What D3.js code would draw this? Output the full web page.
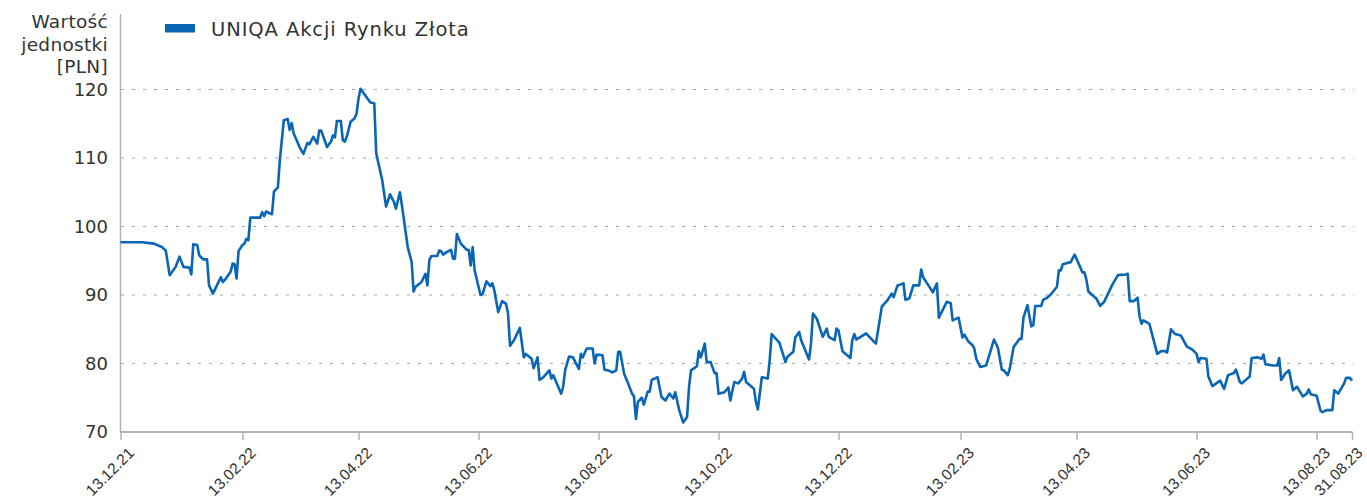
<!DOCTYPE html>
<html>
<head>
<meta charset="utf-8">
<script src="https://cdn.jsdelivr.net/npm/d3@7"></script>
<style>
  html, body { margin: 0; padding: 0; background: #fff; }
  svg { display: block; font-family: "DejaVu Sans", sans-serif; }
</style>
</head>
<body>
<svg id="chart" width="1367" height="502"></svg>
<script>
const seriesName = "UNIQA Akcji Rynku Złota";
const yTitle = ["Wartość", "jednostki", "[PLN]"];
const yTicks = [70, 80, 90, 100, 110, 120];
const xTickDates = ["2021-12-13","2022-02-13","2022-04-13","2022-06-13","2022-08-13","2022-10-13","2022-12-13","2023-02-13","2023-04-13","2023-06-13","2023-08-13","2023-08-31"];

const dates = [
"2021-12-13","2021-12-24","2021-12-30","2022-01-03","2022-01-05","2022-01-07","2022-01-10","2022-01-12","2022-01-14","2022-01-17",
"2022-01-18","2022-01-19","2022-01-21","2022-01-22","2022-01-24","2022-01-26","2022-01-27","2022-01-29","2022-01-31","2022-02-02",
"2022-02-03","2022-02-04","2022-02-07","2022-02-08","2022-02-09","2022-02-10","2022-02-11","2022-02-13","2022-02-14","2022-02-15",
"2022-02-16","2022-02-17","2022-02-19","2022-02-22","2022-02-23","2022-02-24","2022-02-25","2022-02-27","2022-02-28","2022-03-01",
"2022-03-03","2022-03-04","2022-03-06","2022-03-08","2022-03-09","2022-03-10","2022-03-11","2022-03-14","2022-03-16","2022-03-18",
"2022-03-19","2022-03-21","2022-03-23","2022-03-24","2022-03-25","2022-03-28","2022-03-30","2022-03-31","2022-04-01","2022-04-02",
"2022-04-04","2022-04-05","2022-04-06","2022-04-07","2022-04-09","2022-04-11","2022-04-12","2022-04-13","2022-04-14","2022-04-16",
"2022-04-19","2022-04-21","2022-04-22","2022-04-25","2022-04-27","2022-04-29","2022-05-01","2022-05-02","2022-05-04","2022-05-05",
"2022-05-08","2022-05-10","2022-05-11","2022-05-12","2022-05-15","2022-05-17","2022-05-18","2022-05-19","2022-05-20","2022-05-23",
"2022-05-24","2022-05-25","2022-05-26","2022-05-28","2022-05-30","2022-05-31","2022-06-01","2022-06-02","2022-06-04","2022-06-07",
"2022-06-08","2022-06-09","2022-06-10","2022-06-11","2022-06-14","2022-06-15","2022-06-17","2022-06-19","2022-06-20","2022-06-21",
"2022-06-23","2022-06-25","2022-06-27","2022-06-28","2022-06-29","2022-07-01","2022-07-04","2022-07-06","2022-07-07","2022-07-10",
"2022-07-11","2022-07-13","2022-07-14","2022-07-16","2022-07-19","2022-07-20","2022-07-21","2022-07-25","2022-07-26","2022-07-27",
"2022-07-29","2022-07-31","2022-08-03","2022-08-04","2022-08-05","2022-08-07","2022-08-10","2022-08-11","2022-08-12","2022-08-15",
"2022-08-16","2022-08-18","2022-08-20","2022-08-22","2022-08-23","2022-08-24","2022-08-26","2022-08-28","2022-08-30","2022-08-31",
"2022-09-01","2022-09-02","2022-09-04","2022-09-05","2022-09-07","2022-09-08","2022-09-09","2022-09-12","2022-09-14","2022-09-16",
"2022-09-18","2022-09-20","2022-09-21","2022-09-23","2022-09-25","2022-09-27","2022-09-28","2022-09-29","2022-10-02","2022-10-03",
"2022-10-04","2022-10-06","2022-10-07","2022-10-09","2022-10-11","2022-10-12","2022-10-13","2022-10-16","2022-10-18","2022-10-19",
"2022-10-21","2022-10-23","2022-10-25","2022-10-26","2022-10-27","2022-10-31","2022-11-01","2022-11-02","2022-11-04","2022-11-07",
"2022-11-08","2022-11-09","2022-11-13","2022-11-16","2022-11-17","2022-11-20","2022-11-21","2022-11-23","2022-11-24","2022-11-28",
"2022-11-29","2022-11-30","2022-12-02","2022-12-05","2022-12-07","2022-12-08","2022-12-11","2022-12-12","2022-12-13","2022-12-15",
"2022-12-19","2022-12-20","2022-12-21","2022-12-22","2022-12-27","2022-12-30","2023-01-01","2023-01-04","2023-01-07","2023-01-09",
"2023-01-10","2023-01-12","2023-01-15","2023-01-16","2023-01-18","2023-01-20","2023-01-23","2023-01-24","2023-01-25","2023-01-27",
"2023-01-30","2023-02-01","2023-02-02","2023-02-06","2023-02-08","2023-02-09","2023-02-12","2023-02-14","2023-02-15","2023-02-17",
"2023-02-19","2023-02-20","2023-02-21","2023-02-23","2023-02-26","2023-02-27","2023-03-02","2023-03-04","2023-03-06","2023-03-07",
"2023-03-09","2023-03-10","2023-03-12","2023-03-15","2023-03-16","2023-03-17","2023-03-19","2023-03-21","2023-03-22","2023-03-23",
"2023-03-26","2023-03-27","2023-03-29","2023-03-31","2023-04-03","2023-04-04","2023-04-05","2023-04-06","2023-04-10","2023-04-12",
"2023-04-16","2023-04-17","2023-04-18","2023-04-19","2023-04-21","2023-04-23","2023-04-25","2023-04-27","2023-05-01","2023-05-04",
"2023-05-08","2023-05-09","2023-05-10","2023-05-12","2023-05-14","2023-05-15","2023-05-16","2023-05-17","2023-05-20","2023-05-22",
"2023-05-24","2023-05-26","2023-05-28","2023-05-29","2023-05-31","2023-06-02","2023-06-05","2023-06-08","2023-06-11","2023-06-13",
"2023-06-14","2023-06-15","2023-06-18","2023-06-19","2023-06-21","2023-06-25","2023-06-27","2023-06-29","2023-07-02","2023-07-03",
"2023-07-05","2023-07-06","2023-07-10","2023-07-11","2023-07-14","2023-07-16","2023-07-17","2023-07-18","2023-07-22","2023-07-24",
"2023-07-25","2023-07-26","2023-07-28","2023-07-30","2023-08-01","2023-08-03","2023-08-06","2023-08-08","2023-08-09","2023-08-10",
"2023-08-13","2023-08-15","2023-08-16","2023-08-18","2023-08-21","2023-08-22","2023-08-24","2023-08-27","2023-08-28","2023-08-30",
"2023-08-31"
];

const values = [
97.7,97.7,97.5,97.0,96.5,92.9,94.1,95.6,94.1,94.0,
93.0,97.4,97.3,95.8,95.2,95.2,91.4,90.2,91.4,92.6,
91.9,92.2,93.4,94.6,94.5,92.4,96.4,97.3,97.5,98.2,
98.0,101.3,101.3,101.3,102.1,101.5,102.2,101.9,101.8,105.1,
105.7,109.7,115.5,115.7,114.1,115.1,113.6,111.6,110.6,112.2,
112.0,113.1,112.1,114.0,114.0,111.6,112.4,113.3,113.0,115.4,
115.4,112.6,112.4,113.1,115.3,115.8,116.5,118.7,120.1,119.3,
118.1,118.0,110.7,106.8,102.9,104.7,103.6,102.6,105.0,103.2,
97.0,94.8,90.5,91.2,91.9,93.1,91.4,95.1,95.7,95.7,
96.5,96.4,95.9,96.3,96.6,95.3,95.3,98.9,97.5,96.6,
96.6,94.3,97.0,93.6,90.0,90.1,92.0,91.3,91.7,90.7,
87.5,89.1,88.7,87.3,82.6,83.4,85.2,80.9,81.4,80.7,
79.3,80.9,77.6,78.0,79.0,77.8,78.3,75.6,76.6,79.0,
81.0,80.9,79.2,81.4,80.9,82.2,82.2,80.0,81.3,81.2,
79.1,79.0,78.7,79.0,81.7,81.7,78.5,77.1,75.6,75.2,
71.9,74.4,75.0,74.0,75.9,75.9,77.6,78.0,75.1,74.6,
75.6,74.9,75.8,73.2,71.4,72.2,76.6,79.0,79.6,81.8,
80.9,82.9,80.2,80.2,78.6,78.6,75.6,75.8,76.5,74.6,
77.3,77.1,77.8,78.8,77.3,76.3,74.4,73.3,78.0,77.8,
80.5,84.3,83.0,80.2,81.0,81.7,83.8,84.6,83.4,80.6,
82.9,87.3,86.5,83.9,85.1,83.9,83.4,85.1,84.8,81.8,
80.8,83.4,84.3,83.5,84.4,83.5,82.9,88.3,89.3,90.2,
89.7,91.4,91.7,89.3,89.5,91.4,91.4,93.7,92.6,91.7,
90.4,91.7,86.7,89.0,88.8,86.3,86.7,83.8,84.2,83.2,
82.7,82.2,80.7,79.5,79.7,80.6,83.5,82.3,79.1,79.0,
78.3,79.2,82.4,83.6,83.6,86.7,88.5,85.4,85.6,88.4,
88.4,89.3,89.6,90.1,91.2,93.6,93.6,94.5,94.8,95.9,
93.3,93.3,92.2,90.5,90.0,89.5,88.4,89.0,91.4,92.9,
93.0,93.1,89.1,89.1,89.6,86.9,85.8,86.3,85.8,83.6,
81.4,81.8,81.8,81.6,85.0,84.3,84.1,82.5,82.0,81.4,
80.2,80.8,80.7,78.1,76.7,77.5,76.3,78.3,78.6,79.1,
77.3,77.1,78.1,80.8,80.9,80.7,81.3,79.9,79.7,79.7,
80.8,77.6,78.5,79.0,76.1,76.6,75.2,75.6,76.2,75.5,
75.3,73.1,72.9,73.2,73.2,76.1,75.6,77.1,77.9,77.9,
77.5
];

const parse = d3.timeParse("%Y-%m-%d");
const fmt = d3.timeFormat("%d.%m.%y");
const data = dates.map((d, i) => ({ date: parse(d), value: values[i] }));

const W = 1367;
const svg = d3.select("#chart");
const lineColor = "#0a66b4";
const axisColor = "#b3b3b3";
const textColor = "#333333";

const x = d3.scaleTime()
  .domain([parse(dates[0]), parse(dates[dates.length - 1])])
  .range([120.5, 1352]);
const y = d3.scaleLinear().domain([70, 120]).range([432, 89.5]);

// gridlines
svg.append("g").selectAll("line")
  .data(yTicks.filter(t => t > 70))
  .join("line")
  .attr("x1", 121).attr("x2", 1354)
  .attr("y1", d => y(d)).attr("y2", d => y(d))
  .attr("stroke", "#a6a6a6").attr("stroke-width", 1.2)
  .attr("stroke-dasharray", "3,8");

// y axis line
svg.append("line")
  .attr("x1", 120.5).attr("x2", 120.5).attr("y1", 14).attr("y2", 432)
  .attr("stroke", axisColor).attr("stroke-width", 1.5);

// y tick labels
svg.append("g").selectAll("text")
  .data(yTicks).join("text")
  .attr("x", 108).attr("y", d => y(d)).attr("dy", "0.36em")
  .attr("text-anchor", "end")
  .attr("font-size", 18).attr("fill", textColor)
  .text(d => d);

// y title
svg.append("g").selectAll("text")
  .data(yTitle).join("text")
  .attr("x", 108).attr("y", (d, i) => 28 + i * 22.5)
  .attr("text-anchor", "end")
  .attr("font-size", 18.5).attr("fill", textColor)
  .attr("letter-spacing", 0.3)
  .text(d => d);

// x axis
const xAxis = d3.axisBottom(x)
  .tickValues(xTickDates.map(parse))
  .tickSize(8)
  .tickFormat(fmt);
const gx = svg.append("g").attr("transform", "translate(0,432)").call(xAxis);
gx.select(".domain").attr("stroke", axisColor).attr("stroke-width", 2).attr("d", "M120,0H1352.5");
gx.selectAll(".tick line").attr("stroke", axisColor).attr("stroke-width", 1.5);
gx.selectAll(".tick text")
  .attr("font-family", "Liberation Sans, Arial, sans-serif")
  .attr("font-size", 15.5).attr("fill", textColor)
  .attr("text-anchor", "end")
  .attr("y", 0).attr("dy", 0)
  .attr("transform", d => {
    const dx = Math.min(14, W - 4 - x(d));
    return `translate(${dx},22) rotate(-45)`;
  });

// line
const line = d3.line().x(d => x(d.date)).y(d => y(d.value));
svg.append("path").datum(data)
  .attr("d", line)
  .attr("fill", "none")
  .attr("stroke", lineColor)
  .attr("stroke-width", 2.6)
  .attr("stroke-linejoin", "round");

// legend
const legend = svg.append("g");
legend.append("rect").attr("x", 165).attr("y", 24).attr("width", 30).attr("height", 8.5).attr("fill", lineColor);
legend.append("text").attr("x", 211).attr("y", 36)
  .attr("font-size", 19.5).attr("fill", textColor).attr("letter-spacing", 0.9)
  .text(seriesName);
</script>
</body>
</html>
